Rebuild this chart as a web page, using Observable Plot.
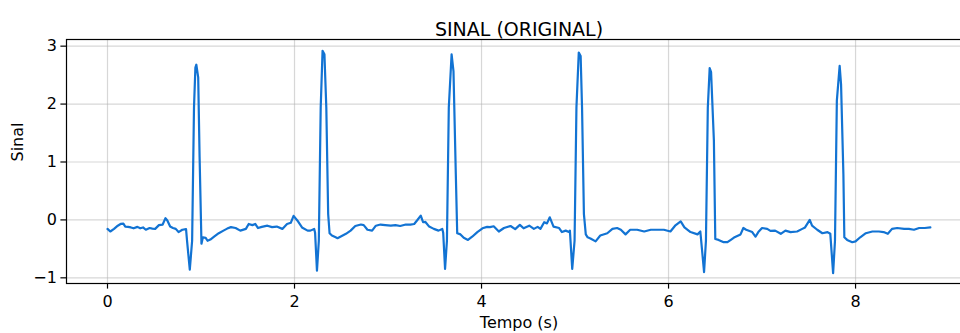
<!DOCTYPE html>
<html>
<head>
<meta charset="utf-8">
<script src="https://cdn.jsdelivr.net/npm/d3@7"></script>
<script src="https://cdn.jsdelivr.net/npm/@observablehq/plot@0.6"></script>
<style>
  html, body { margin: 0; padding: 0; background: #fff; overflow: hidden; }
  #wrap { width: 960px; height: 333px; overflow: hidden; }
  #wrap svg { max-width: none !important; width: 972px; height: 333px; display: block; }
</style>
</head>
<body>
<div id="wrap"></div>
<script>
const titleText = "SINAL (ORIGINAL)";
const xLabel = "Tempo (s)";
const yLabel = "Sinal";
const xTicks = [0, 2, 4, 6, 8];
const yTicks = [-1, 0, 1, 2, 3];

const time = [
  0.00, 0.03, 0.07, 0.11, 0.14, 0.17, 0.19, 0.22, 0.25, 0.28, 0.32, 0.35, 0.38, 0.41, 0.45, 0.48,
  0.51, 0.55, 0.59, 0.62, 0.64, 0.67, 0.70, 0.73, 0.76, 0.80, 0.84, 0.85, 0.88, 0.905, 0.925, 0.94,
  0.95, 0.97, 0.985, 1.005, 1.02, 1.05, 1.07, 1.10, 1.14, 1.19, 1.24, 1.28, 1.32, 1.37, 1.42, 1.48,
  1.51, 1.55, 1.58, 1.61, 1.65, 1.71, 1.76, 1.81, 1.87, 1.92, 1.96, 1.99, 2.03, 2.08, 2.14, 2.17,
  2.21, 2.22, 2.24, 2.26, 2.28, 2.30, 2.32, 2.34, 2.36, 2.375, 2.40, 2.44, 2.46, 2.49, 2.55, 2.60,
  2.65, 2.71, 2.74, 2.78, 2.83, 2.87, 2.92, 2.97, 3.03, 3.08, 3.13, 3.19, 3.24, 3.28, 3.31, 3.35,
  3.375, 3.40, 3.44, 3.49, 3.54, 3.58, 3.59, 3.61, 3.63, 3.65, 3.68, 3.70, 3.725, 3.74, 3.775, 3.81,
  3.855, 3.90, 3.955, 4.01, 4.06, 4.09, 4.13, 4.185, 4.24, 4.31, 4.36, 4.41, 4.45, 4.51, 4.56, 4.60,
  4.63, 4.67, 4.70, 4.73, 4.77, 4.83, 4.86, 4.90, 4.935, 4.945, 4.97, 4.995, 5.015, 5.04, 5.06, 5.075,
  5.095, 5.115, 5.135, 5.165, 5.22, 5.27, 5.345, 5.40, 5.45, 5.49, 5.54, 5.59, 5.665, 5.74, 5.81, 5.88,
  5.95, 6.02, 6.07, 6.13, 6.17, 6.235, 6.31, 6.34, 6.38, 6.40, 6.42, 6.44, 6.455, 6.485, 6.50, 6.535,
  6.59, 6.63, 6.67, 6.70, 6.77, 6.80, 6.83, 6.895, 6.93, 6.96, 7.00, 7.055, 7.09, 7.14, 7.20, 7.25,
  7.305, 7.375, 7.43, 7.46, 7.51, 7.535, 7.59, 7.645, 7.70, 7.73, 7.76, 7.78, 7.80, 7.83, 7.845, 7.87,
  7.88, 7.91, 7.965, 8.00, 8.05, 8.11, 8.18, 8.25, 8.30, 8.345, 8.39, 8.445, 8.52, 8.57, 8.625, 8.68,
  8.74, 8.80
];
const signal = [
  -0.155, -0.20, -0.155, -0.10, -0.07, -0.065, -0.115, -0.12, -0.13, -0.145, -0.12, -0.145, -0.13, -0.17, -0.14, -0.15,
  -0.155, -0.09, -0.08, 0.03, -0.01, -0.115, -0.14, -0.155, -0.21, -0.17, -0.16, -0.35, -0.86, -0.36, 1.94, 2.63,
  2.68, 2.46, 1.08, -0.41, -0.30, -0.31, -0.36, -0.34, -0.29, -0.23, -0.185, -0.15, -0.125, -0.14, -0.185, -0.155,
  -0.07, -0.09, -0.07, -0.14, -0.12, -0.10, -0.125, -0.115, -0.155, -0.07, -0.05, 0.07, -0.01, -0.13, -0.185, -0.185,
  -0.155, -0.22, -0.875, -0.36, 1.94, 2.92, 2.86, 1.94, 0.10, -0.23, -0.27, -0.30, -0.315, -0.29, -0.24, -0.185,
  -0.105, -0.08, -0.09, -0.17, -0.185, -0.10, -0.08, -0.09, -0.10, -0.09, -0.105, -0.08, -0.08, -0.07, -0.01, 0.075,
  -0.04, -0.035, -0.115, -0.155, -0.185, -0.155, -0.22, -0.845, -0.36, 1.94, 2.86, 2.57, 0.79, -0.23, -0.25, -0.31,
  -0.345, -0.29, -0.21, -0.145, -0.12, -0.125, -0.11, -0.20, -0.14, -0.105, -0.16, -0.085, -0.145, -0.10, -0.155, -0.12,
  -0.155, -0.04, -0.06, 0.045, -0.115, -0.14, -0.21, -0.185, -0.21, -0.185, -0.845, -0.36, 1.94, 2.89, 2.83, 1.94,
  0.10, -0.25, -0.30, -0.32, -0.37, -0.27, -0.23, -0.155, -0.14, -0.17, -0.25, -0.17, -0.17, -0.20, -0.17, -0.17,
  -0.17, -0.20, -0.10, -0.025, -0.13, -0.21, -0.25, -0.20, -0.90, -0.36, 1.94, 2.62, 2.55, 1.37, -0.33, -0.345,
  -0.385, -0.385, -0.34, -0.305, -0.25, -0.14, -0.17, -0.21, -0.29, -0.21, -0.14, -0.155, -0.19, -0.185, -0.24, -0.185,
  -0.21, -0.20, -0.155, -0.13, 0.00, -0.10, -0.17, -0.23, -0.21, -0.24, -0.92, -0.36, 2.06, 2.66, 2.34, 0.79,
  -0.30, -0.345, -0.385, -0.37, -0.30, -0.23, -0.20, -0.20, -0.21, -0.24, -0.155, -0.14, -0.155, -0.155, -0.17, -0.14,
  -0.14, -0.13
];

const data = time.map((t, i) => ({t, v: signal[i]}));
const fmt = d3.format("d");
const font = "DejaVu Sans, sans-serif";

const chart = Plot.plot({
  width: 972,
  height: 333,
  marginLeft: 66,
  marginRight: 1,
  marginTop: 39,
  marginBottom: 50,
  style: { fontFamily: font, background: "#fff", color: "#000", maxWidth: "none" },
  x: { domain: [-0.4385, 9.24] },
  y: { domain: [-1.098, 3.115] },
  marks: [
    Plot.gridX(xTicks, { stroke: "#b0b0b0", strokeOpacity: 0.5, strokeWidth: 1.2 }),
    Plot.gridY(yTicks, { stroke: "#b0b0b0", strokeOpacity: 0.5, strokeWidth: 1.2 }),
    Plot.line(data, { x: "t", y: "v", stroke: "#1273d3", strokeWidth: 2.2, strokeLinejoin: "round" }),
    Plot.frame({ stroke: "#000", strokeWidth: 1.2 }),
    Plot.axisX({ ticks: xTicks, tickFormat: fmt, tickSize: 5.6, tickPadding: 7, fontSize: 16, label: null, strokeWidth: 1.2 }),
    Plot.axisY({ ticks: yTicks, tickFormat: fmt, tickSize: 5.6, tickPadding: 4, fontSize: 16, label: null, strokeWidth: 1.2 }),
    Plot.text([titleText], { text: d => d, frameAnchor: "top", dy: -17, fontSize: 19, fill: "#000" }),
    Plot.text([xLabel], { text: d => d, frameAnchor: "bottom", dy: 44, fontSize: 16, fill: "#000" }),
    Plot.text([yLabel], { text: d => d, frameAnchor: "left", dx: -49, rotate: -90, fontSize: 16, fill: "#000" })
  ]
});
chart.style.maxWidth = "none";
document.getElementById("wrap").appendChild(chart);
</script>
</body>
</html>
